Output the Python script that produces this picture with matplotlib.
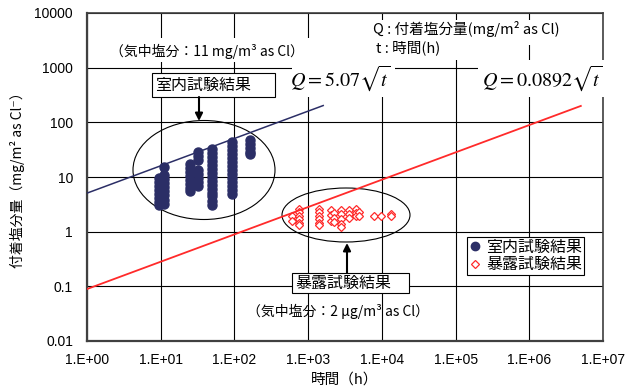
import matplotlib
matplotlib.use("Agg")
import matplotlib.pyplot as plt
from matplotlib.patches import Ellipse, Rectangle
from matplotlib.lines import Line2D
import numpy as np

JP = ["Noto Sans CJK JP", "DejaVu Sans"]
plt.rcParams["font.family"] = JP

# 室内試験結果: 時間 (h) ごとの付着塩分量 (mg/m2)
indoor_t = [9.5, 11, 24.6, 31.6, 49, 94, 165]
indoor_q = [
    [9.7, 8.2, 6.9, 5.9, 4.9, 4.2, 3.5, 3.1],
    [15.4, 11.0, 9.3, 7.8, 6.6, 5.5, 4.6, 3.8, 3.2],
    [17.5, 14.8, 12.5, 10.6, 8.9, 7.5, 6.4, 5.6],
    [29, 24.5, 20.7, 13.6, 11.5, 9.7, 8.2, 6.9],
    [32.9, 27.8, 23.5, 19.9, 16.8, 14.2, 12.0, 10.1, 8.6, 7.2, 6.1, 5.2, 4.4, 3.7, 3.1],
    [44.2, 37.4, 31.6, 26.7, 22.5, 19.0, 16.1, 13.6, 11.5, 9.7, 8.2, 6.9, 5.9, 4.9],
    [48, 40.6, 34.3, 29, 26.7],
]

# 暴露試験結果
exposure_t = [610, 755, 1400, 2050, 2250, 2800, 3600, 4450, 4900, 7800, 9700, 13200]
exposure_q = [
    [1.95, 1.55],
    [2.6, 2.25, 1.95, 1.7, 1.45, 1.3],
    [2.6, 2.25, 1.95, 1.7, 1.45, 1.35],
    [2.5, 2.0, 1.6],
    [2.2, 1.8, 1.5],
    [2.5, 2.1, 1.7, 1.4, 1.2],
    [2.5, 2.1, 1.8],
    [2.6, 2.2, 1.9],
    [2.3, 1.9],
    [1.95],
    [1.95],
    [2.1, 1.95],
]

# 回帰式 Q = a * sqrt(t) と描画範囲
indoor_coef, indoor_tmax = 5.07, 1600
exposure_coef, exposure_tmax = 0.0892, 5.0e6

x_ticks = [1, 10, 100, 1e3, 1e4, 1e5, 1e6, 1e7]
x_ticklabels = ["1.E+00", "1.E+01", "1.E+02", "1.E+03", "1.E+04", "1.E+05", "1.E+06", "1.E+07"]
y_ticks = [0.01, 0.1, 1, 10, 100, 1000, 10000]
y_ticklabels = ["0.01", "0.1", "1", "10", "100", "1000", "10000"]

NAVY = "#2b2e66"
RED = "#ff2a2a"

fig = plt.figure(figsize=(6.37, 3.91), dpi=100)
L, R, T, B = 87, 603, 13, 341
W, H = 637, 391
ax = fig.add_axes([L / W, 1 - B / H, (R - L) / W, (B - T) / H])


def fx(px):
    return (px - L) / (R - L)


def fy(py):
    return (B - py) / (B - T)


ax.set_xscale("log")
ax.set_yscale("log")
ax.set_xlim(1, 1e7)
ax.set_ylim(0.01, 10000)
ax.set_xticks(x_ticks)
ax.set_xticklabels(x_ticklabels, family="Liberation Sans", fontsize=10)
ax.set_yticks(y_ticks)
ax.set_yticklabels(y_ticklabels, family="Liberation Sans", fontsize=10)
ax.minorticks_off()
ax.tick_params(axis="x", length=0, pad=9)
ax.tick_params(axis="y", length=0, pad=10)
ax.grid(True, color="black", lw=0.8)
ax.set_axisbelow(True)
for side, sp in ax.spines.items():
    sp.set_color("#404040")
    sp.set_linewidth(1.6 if side in ("left", "bottom") else 1.2)

ax.set_ylabel("付着塩分量（mg/m² as Cl⁻）", fontsize=10, labelpad=7)
ax.set_xlabel("時間（h）", fontsize=10.5, labelpad=4)

# 楕円
ax.add_patch(Ellipse((fx(204), fy(170)), 142 / (R - L), 99 / (B - T),
                     transform=ax.transAxes, fill=False, ec="black", lw=0.8, zorder=2))
ax.add_patch(Ellipse((fx(346), fy(215)), 128 / (R - L), 54 / (B - T),
                     transform=ax.transAxes, fill=False, ec="black", lw=0.8, zorder=2))

# データ点
for t, qs in zip(indoor_t, indoor_q):
    ax.plot([t] * len(qs), qs, "o", color=NAVY, ms=6.5, mec=NAVY, zorder=3)
for t, qs in zip(exposure_t, exposure_q):
    ax.plot([t] * len(qs), qs, "D", color=RED, ms=4.5, mfc="white", mew=0.9, zorder=3)

# 回帰線
t1 = np.array([1, indoor_tmax])
ax.plot(t1, indoor_coef * np.sqrt(t1), color=NAVY, lw=1.1, zorder=4)
t2 = np.array([1, exposure_tmax])
ax.plot(t2, exposure_coef * np.sqrt(t2), color=RED, lw=1.3, zorder=4)


# 白抜き領域（グリッドを隠す）
def white_rect(x0, y0, x1, y1):
    ax.add_patch(Rectangle((fx(x0), fy(y1)), (x1 - x0) / (R - L), (y1 - y0) / (B - T),
                           transform=ax.transAxes, fc="white", ec="none", zorder=5, clip_on=False))


def label(px, py, s, **kw):
    ax.text(fx(px), fy(py), s, transform=ax.transAxes, ha="left", va="center", zorder=6, **kw)


white_rect(108, 38, 312, 62)
white_rect(292, 60, 395, 97)
white_rect(478, 60, 610, 97)
white_rect(365, 20, 585, 45)
white_rect(370, 37, 460, 60)

label(110, 51, "（気中塩分：11 mg/m³ as Cl）", fontsize=10)
label(373, 29, "Q : 付着塩分量(mg/m² as Cl)", fontsize=10.5)
label(376, 48, "t : 時間(h)", fontsize=10.5)
label(290, 78, r"$Q=5.07\sqrt{t}$", fontsize=14.5, math_fontfamily="stix")
label(482, 78, r"$Q=0.0892\sqrt{t}$", fontsize=14.5, math_fontfamily="stix")

# ラベル枠と矢印
ax.add_patch(Rectangle((fx(152), fy(97)), 123 / (R - L), 24 / (B - T), transform=ax.transAxes,
                       fc="white", ec="black", lw=0.8, zorder=5))
label(155, 85, "室内試験結果", fontsize=11.5)
ax.annotate("", xy=(fx(199), fy(121)), xytext=(fx(199), fy(97)), xycoords="axes fraction",
            arrowprops=dict(arrowstyle="-|>", color="black", lw=1.5, mutation_scale=11,
                            shrinkA=0, shrinkB=0), zorder=6)

ax.add_patch(Rectangle((fx(292), fy(293)), 117 / (R - L), 20 / (B - T), transform=ax.transAxes,
                       fc="white", ec="black", lw=0.8, zorder=5))
label(295, 283, "暴露試験結果", fontsize=11.5)
ax.annotate("", xy=(fx(347), fy(243)), xytext=(fx(347), fy(273)), xycoords="axes fraction",
            arrowprops=dict(arrowstyle="-|>", color="black", lw=1.5, mutation_scale=11,
                            shrinkA=0, shrinkB=0), zorder=6)

label(247, 311, "（気中塩分：2 μg/m³ as Cl）", fontsize=10)

# 凡例
handles = [
    Line2D([], [], ls="none", marker="o", color=NAVY, ms=6),
    Line2D([], [], ls="none", marker="D", color=RED, mfc="white", ms=4.2, mew=0.9),
]
leg = ax.legend(handles, ["室内試験結果", "暴露試験結果"], loc="upper left",
                bbox_to_anchor=(fx(467), fy(237)), fontsize=11.5, frameon=True, fancybox=False,
                framealpha=1, edgecolor="black", handlelength=0.8, handletextpad=0.3,
                borderpad=0.1, labelspacing=0.05, borderaxespad=0)
leg.get_frame().set_linewidth(0.8)
leg.set_zorder(7)

fig.savefig("out.png", dpi=100)
